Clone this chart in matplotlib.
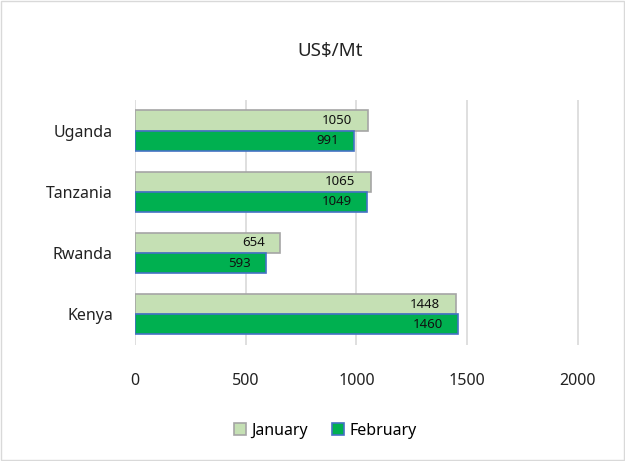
import matplotlib.pyplot as plt
from matplotlib.patches import Rectangle
import numpy as np

plt.rcParams['font.family'] = ['Noto Sans', 'DejaVu Sans']

# ── Data ──
countries = ['Kenya', 'Rwanda', 'Tanzania', 'Uganda']
january   = [1448, 654, 1065, 1050]
february  = [1460, 593, 1049, 991]

# ── Plot ──
fig = plt.figure(figsize=(6.25, 4.61), dpi=100)
ax = fig.add_axes([0.216, 0.252, 0.71, 0.531])

y = np.arange(len(countries))
h = 0.33
b1 = ax.barh(y + h / 2, january, height=h, color='#c5e0b4',
             edgecolor='#a5a5a5', linewidth=1.2, label='January')
b2 = ax.barh(y - h / 2, february, height=h, color='#00b050',
             edgecolor='#4472c4', linewidth=1.2, label='February')

for bars, vals in ((b1, january), (b2, february)):
    for bar, v in zip(bars, vals):
        ax.annotate(str(v), (v, bar.get_y() + bar.get_height() / 2),
                    xytext=(-11, 0), textcoords='offset points',
                    ha='right', va='center', fontsize=9.5, color='#111111')

ax.set_xlim(0, 2004)
ax.set_ylim(-0.5, 3.5)
ax.set_xticks([0, 500, 1000, 1500, 2000])
ax.set_yticks(y)
ax.set_yticklabels(countries)
ax.tick_params(length=0, labelsize=11.5, colors='#222222')
ax.tick_params(axis='x', pad=20)
ax.tick_params(axis='y', pad=16)
ax.grid(axis='x', color='#d9d9d9', linewidth=1.2)
ax.set_axisbelow(True)
for s in ax.spines.values():
    s.set_visible(False)

fig.text(0.528, 0.89, 'US$/Mt', ha='center', va='center', fontsize=13.5, color='#222222')

fig.legend(handles=[b1, b2], loc='center', bbox_to_anchor=(0.52, 0.066), ncol=2,
           frameon=False, fontsize=11.5, handlelength=0.8, handleheight=0.8,
           handletextpad=0.3, columnspacing=1.5)

fig.patches.append(Rectangle((0.002, 0.002), 0.996, 0.996, transform=fig.transFigure,
                             fill=False, edgecolor='#d9d9d9', linewidth=1))

fig.savefig('out.png', dpi=100)
